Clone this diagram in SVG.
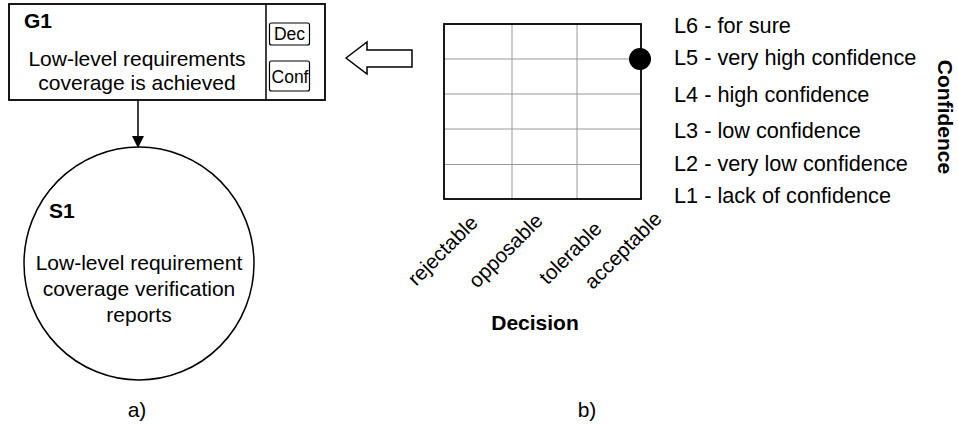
<svg xmlns="http://www.w3.org/2000/svg" width="958" height="427" viewBox="0 0 958 427">
<defs>
<style>
text{font-family:"Liberation Sans",Arial,sans-serif;font-size:21px;fill:#000}
.b{font-weight:bold}
.m{text-anchor:middle}
.e{text-anchor:end;font-size:20.5px}
.s{font-size:17.5px}
.l{font-size:21.7px}
.ln{fill:none;stroke:#000;stroke-width:1.8}
.gr{stroke:#999;stroke-width:1}
</style>
<marker id="ah" markerWidth="12" markerHeight="12" refX="10" refY="6" orient="auto" markerUnits="userSpaceOnUse" viewBox="0 0 12 12">
<path d="M0,0 L12,6 L0,12 z" fill="#000"/>
</marker>
</defs>
<rect width="958" height="427" fill="#fff"/>
<g id="G1">
<rect x="9" y="4" width="316" height="96" fill="#fff" stroke="#000" stroke-width="1.8"/>
<line x1="266" y1="4" x2="266" y2="100" stroke="#000" stroke-width="1.5"/>
<rect x="269.5" y="23" width="40" height="22" rx="2" fill="#fff" stroke="#000" stroke-width="1.2"/>
<text x="289.5" y="40" class="m s">Dec</text>
<rect x="269.5" y="61" width="40" height="30" rx="2" fill="#fff" stroke="#000" stroke-width="1.2"/>
<text x="290" y="83" class="m s">Conf</text>
<text x="24" y="28" class="b">G1</text>
<text x="137" y="66" class="m">Low-level requirements</text>
<text x="137" y="90" class="m">coverage is achieved</text>
</g>
<g id="S1">
<ellipse cx="139" cy="263.5" rx="115" ry="116.5" fill="#fff" stroke="#000" stroke-width="1.5"/>
<text x="49" y="218" class="b">S1</text>
<text x="139" y="270" class="m">Low-level requirement</text>
<text x="139" y="296" class="m">coverage verification</text>
<text x="139" y="322" class="m">reports</text>
</g>
<g id="connectors">
<line x1="138" y1="100" x2="138" y2="146" stroke="#000" stroke-width="1.5" marker-end="url(#ah)"/>
<path d="M346,58 L367,42 L367,50 L412,50 L412,67 L367,67 L367,74 Z" fill="#fff" stroke="#000" stroke-width="1.5" stroke-linejoin="miter"/>
</g>
<g id="chart">
<g class="gr">
<line x1="512" y1="24" x2="512" y2="199"/>
<line x1="577" y1="24" x2="577" y2="199"/>
<line x1="444" y1="59" x2="641" y2="59"/>
<line x1="444" y1="94" x2="641" y2="94"/>
<line x1="444" y1="129" x2="641" y2="129"/>
<line x1="444" y1="164.5" x2="641" y2="164.5"/>
</g>
<rect x="444" y="24" width="197" height="175" class="ln"/>
<circle cx="640" cy="59" r="11" fill="#000"/>
<text x="674" y="33" class="l">L6 - for sure</text>
<text x="674" y="65" class="l">L5 - very high confidence</text>
<text x="674" y="102" class="l">L4 - high confidence</text>
<text x="674" y="138" class="l">L3 - low confidence</text>
<text x="674" y="171" class="l">L2 - very low confidence</text>
<text x="674" y="203" class="l">L1 - lack of confidence</text>
<text transform="translate(938,117) rotate(90)" class="b m">Confidence</text>
<text transform="translate(479,224) rotate(-45)" class="e">rejectable</text>
<text transform="translate(544,222) rotate(-45)" class="e">opposable</text>
<text transform="translate(603,230) rotate(-45)" class="e">tolerable</text>
<text transform="translate(663,220) rotate(-45)" class="e">acceptable</text>
<text x="535" y="330" class="b m">Decision</text>
</g>
<text x="137" y="417" class="m">a)</text>
<text x="587" y="417" class="m">b)</text>
</svg>
